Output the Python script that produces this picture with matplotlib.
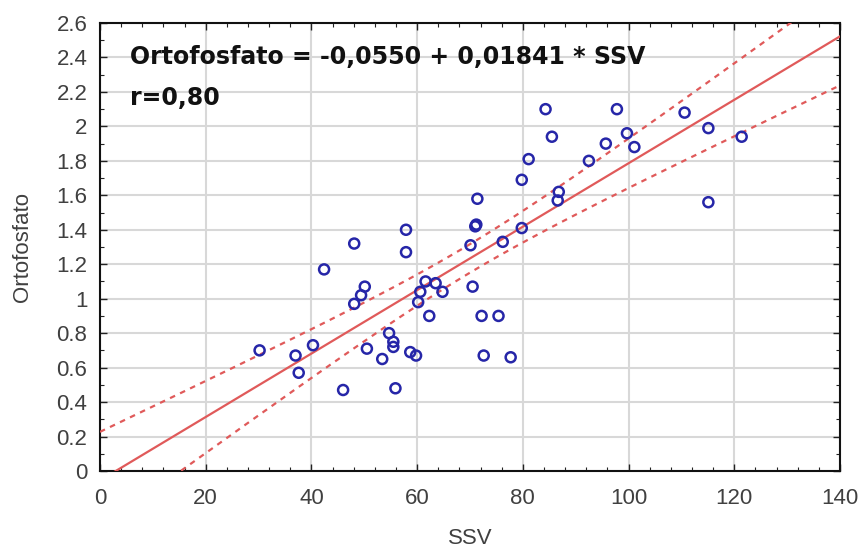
import numpy as np
import matplotlib
matplotlib.use("Agg")
import matplotlib.pyplot as plt
from matplotlib.ticker import MultipleLocator

# SSV vs Ortofosfato
ssv = [30.2, 37.0, 37.6, 40.3, 42.4, 46.0, 48.1, 48.1, 49.4, 50.1,
       50.5, 53.4, 54.7, 55.5, 55.5, 55.9, 57.9, 57.9, 58.7, 59.8,
       60.2, 60.6, 61.6, 62.3, 63.5, 64.8, 70.1, 70.5, 71.0, 71.2,
       71.4, 72.2, 72.6, 75.4, 76.2, 77.7, 79.8, 79.8, 81.1, 84.3,
       85.5, 86.6, 86.8, 92.5, 95.7, 97.8, 99.7, 101.1, 110.6, 115.1,
       115.1, 121.4]
orto = [0.70, 0.67, 0.57, 0.73, 1.17, 0.47, 1.32, 0.97, 1.02, 1.07,
        0.71, 0.65, 0.80, 0.75, 0.72, 0.48, 1.40, 1.27, 0.69, 0.67,
        0.98, 1.04, 1.10, 0.90, 1.09, 1.04, 1.31, 1.07, 1.42, 1.43,
        1.58, 0.90, 0.67, 0.90, 1.33, 0.66, 1.41, 1.69, 1.81, 2.10,
        1.94, 1.57, 1.62, 1.80, 1.90, 2.10, 1.96, 1.88, 2.08, 1.99,
        1.56, 1.94]
ytick_labels = ["0", "0.2", "0.4", "0.6", "0.8", "1", "1.2", "1.4",
                "1.6", "1.8", "2", "2.2", "2.4", "2.6"]

intercept = -0.0550
slope = 0.01841
t_crit = 2.009  # t(0.975, df=50)

x = np.array(ssv)
y = np.array(orto)

fig = plt.figure(figsize=(8.64, 5.53), dpi=100)
ax = fig.add_axes([0.1157, 0.1483, 0.8565, 0.8101])

blue = "#2626a8"
red = "#e05a5a"
txt = "#404040"

# regression line + 95% confidence bands
xs = np.linspace(0, 140, 300)
fit = intercept + slope * xs
n = len(x)
resid = y - (intercept + slope * x)
s = np.sqrt(np.sum(resid ** 2) / (n - 2))
sxx = np.sum((x - x.mean()) ** 2)
half = t_crit * s * np.sqrt(1.0 / n + (xs - x.mean()) ** 2 / sxx)

ax.plot(xs, fit, color=red, lw=1.6, zorder=3)
ax.plot(xs, fit + half, color=red, lw=1.6, ls=(0, (2.5, 2.5)), zorder=3)
ax.plot(xs, fit - half, color=red, lw=1.6, ls=(0, (2.5, 2.5)), zorder=3)

ax.scatter(x, y, s=52, facecolors="none", edgecolors=blue, linewidths=1.8, zorder=4)

ax.set_xlim(0, 140)
ax.set_ylim(0, 2.6)
ax.xaxis.set_major_locator(MultipleLocator(20))
ax.xaxis.set_minor_locator(MultipleLocator(4))
ax.yaxis.set_minor_locator(MultipleLocator(0.1))
ax.set_yticks(np.arange(len(ytick_labels)) * 0.2)
ax.set_yticklabels(ytick_labels)

ax.grid(True, which="major", color="#d8d8d8", lw=1.5, zorder=0)
ax.tick_params(which="both", direction="in", top=True, right=True,
               colors="#222222", labelcolor=txt, labelsize=16)
ax.tick_params(axis="x", which="major", pad=12)
ax.tick_params(axis="y", which="major", pad=9)
ax.tick_params(which="major", length=5, width=1)
ax.tick_params(which="minor", length=3, width=0.8)
for lab in ax.get_xticklabels() + ax.get_yticklabels():
    lab.set_family("Liberation Sans")
for sp in ax.spines.values():
    sp.set_linewidth(1.5)
    sp.set_color("#111111")

ax.set_xlabel("SSV", fontsize=16, color=txt, family="Liberation Sans", va="center")
ax.set_ylabel("Ortofosfato", fontsize=16, color=txt, family="Liberation Sans", va="center")
ax.xaxis.set_label_coords(0.5, -0.15)
ax.yaxis.set_label_coords(-0.105, 0.5)

ax.text(5.7, 2.40, "Ortofosfato = -0,0550 + 0,01841 * SSV", fontsize=17,
        fontweight="bold", va="center", ha="left", color="#111111",
        family="DejaVu Sans")
ax.text(5.7, 2.165, "r=0,80", fontsize=17, fontweight="bold", va="center",
        ha="left", color="#111111", family="DejaVu Sans")

fig.savefig("out.png", dpi=100)
